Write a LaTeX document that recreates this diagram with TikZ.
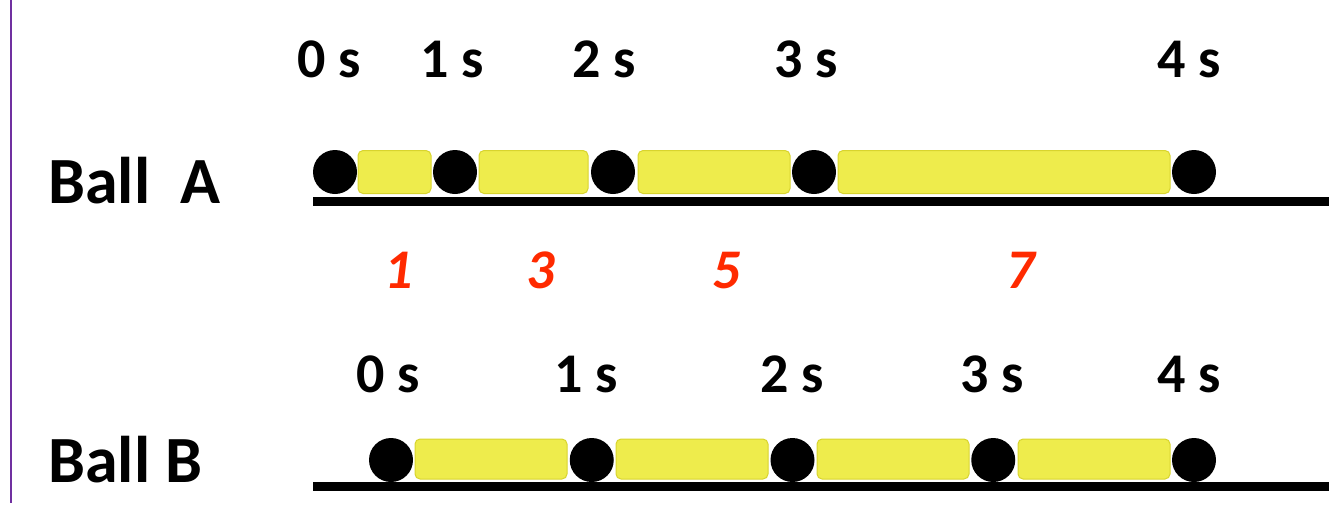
\documentclass[tikz,border=0pt]{standalone}
\usepackage{fontspec}
\setmainfont{Carlito}
\usetikzlibrary{positioning}
\definecolor{barfill}{HTML}{EEEC4C}
\definecolor{bardraw}{HTML}{D8D42E}
\definecolor{stepred}{HTML}{FF2A00}
\definecolor{edgepurple}{HTML}{7030A0}

\begin{document}
\begin{tikzpicture}[
    x=1pt, y=-1pt,
    ball/.style={circle, fill=black, inner sep=0pt, minimum size=44pt},
    bar/.style={rectangle, draw=bardraw, line width=1pt, fill=barfill, rounded corners=5pt, inner sep=0pt, minimum height=43pt},
    timelbl/.style={anchor=base, inner sep=0pt, font=\fontsize{56}{60}\selectfont\bfseries},
    distlbl/.style={anchor=base, inner sep=0pt, text=stepred, font=\fontsize{56}{60}\selectfont\bfseries\itshape},
    balltitle/.style={anchor=base west, inner sep=0pt, font=\fontsize{66}{70}\selectfont\bfseries},
    ground/.style={line width=9pt}
]
    \useasboundingbox (0,0) rectangle (1329,507);

    % left margin rule
    \coordinate (edge0) at (11,0);
    \coordinate (edge1) at (11,503);
    \draw[edgepurple, line width=2pt] (edge0) -- (edge1);

    % Ball A
    \node [balltitle] (titleA) at (48,203) {Ball~~A};
    \coordinate (gA0) at (313,201);
    \coordinate (gA1) at (1329,201);
    \draw [ground] (gA0) -- (gA1);
    \foreach \x/\w [count=\i] in {394.5/73, 533.5/109, 714/152, 1004/332}
        \node [bar, minimum width=\w pt] (sa\i) at (\x,172) {};
    \node [ball] (a0) at (335,172) {};
    \node [ball] (a1) at (455,172) {};
    \node [ball] (a2) at (613,172) {};
    \node [ball] (a3) at (814,172) {};
    \node [ball] (a4) at (1194,172) {};
    \foreach \x [count=\i from 0] in {329, 452, 604, 806, 1189}
        \node [timelbl] (ta\i) at (\x,77) {\i~s};

    % distances covered
    \node [distlbl] (d1) at (399,288) {1};
    \node [distlbl] (d3) at (541,288) {3};
    \node [distlbl] (d5) at (727,288) {5};
    \node [distlbl] (d7) at (1021,288) {7};

    % Ball B
    \node [balltitle] (titleB) at (48,482) {Ball B};
    \coordinate (gB0) at (313,486);
    \coordinate (gB1) at (1329,486);
    \draw [ground] (gB0) -- (gB1);
    \foreach \i in {1,...,4}
        \node [bar, minimum width=152pt, minimum height=40pt] (sb\i) at ({491+201*(\i-1)},459) {};
    \foreach \i in {0,...,4}
        \node [ball] (b\i) at ({391+200.75*\i},460) {};
    \foreach \x [count=\i from 0] in {388, 586, 792, 992, 1189}
        \node [timelbl] (tb\i) at (\x,392) {\i~s};
\end{tikzpicture}
\end{document}
